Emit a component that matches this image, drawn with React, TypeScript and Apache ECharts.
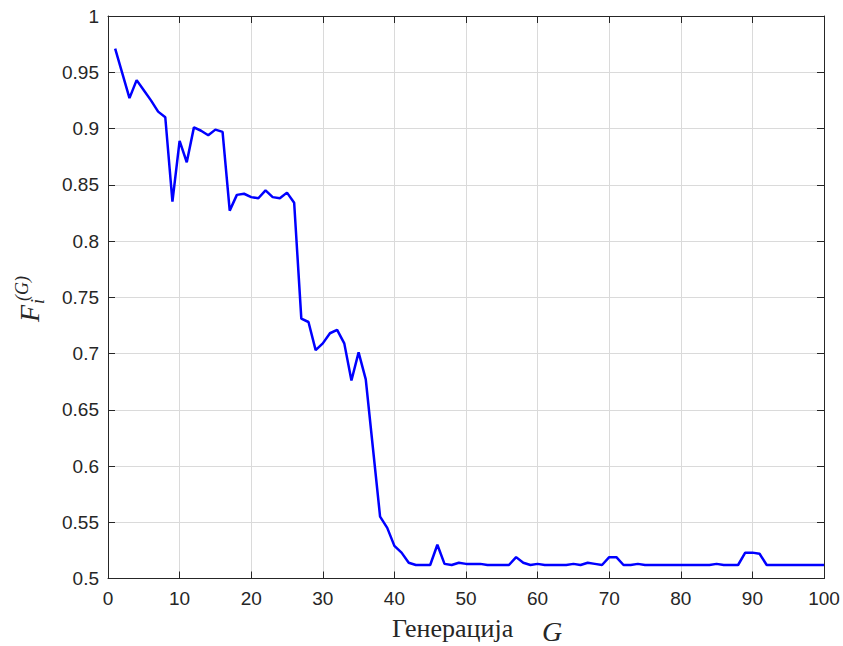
import React, { useEffect, useRef } from "react";
import * as echarts from "echarts";

const generations: number[] = Array.from({ length: 100 }, (_, i) => i + 1);

const fitness: number[] = [
  0.971, 0.949, 0.927, 0.943, 0.934, 0.925, 0.915, 0.910, 0.835, 0.889,
  0.870, 0.901, 0.898, 0.894, 0.899, 0.897, 0.827, 0.841, 0.842, 0.839,
  0.838, 0.845, 0.839, 0.838, 0.843, 0.834, 0.731, 0.728, 0.703, 0.709,
  0.718, 0.721, 0.709, 0.676, 0.701, 0.677, 0.616, 0.555, 0.545, 0.529,
  0.523, 0.514, 0.512, 0.512, 0.512, 0.530, 0.513, 0.512, 0.514, 0.513,
  0.513, 0.513, 0.512, 0.512, 0.512, 0.512, 0.519, 0.514, 0.512, 0.513,
  0.512, 0.512, 0.512, 0.512, 0.513, 0.512, 0.514, 0.513, 0.512, 0.519,
  0.519, 0.512, 0.512, 0.513, 0.512, 0.512, 0.512, 0.512, 0.512, 0.512,
  0.512, 0.512, 0.512, 0.512, 0.513, 0.512, 0.512, 0.512, 0.523, 0.523,
  0.522, 0.512, 0.512, 0.512, 0.512, 0.512, 0.512, 0.512, 0.512, 0.512,
];

const xAxisLabel = "Генерација";
const xAxisSymbol = "G";

export default function App() {
  const ref = useRef<HTMLDivElement>(null);
  useEffect(() => {
    if (!ref.current) return;
    const chart = echarts.init(ref.current, null, { renderer: "svg" });
    const axisColor = "#262626";
    const gridColor = "#dadada";
    const labelFont = { fontFamily: "Liberation Sans, Arial, sans-serif", fontSize: 19, color: "#262626" };
    const commonX = {
      type: "value" as const,
      min: 0,
      max: 100,
      interval: 10,
      axisLine: { show: true, onZero: false, lineStyle: { color: axisColor, width: 1 } },
      axisTick: { show: true, inside: true, length: 7, lineStyle: { color: axisColor } },
    };
    const commonY = {
      type: "value" as const,
      min: 0.5,
      max: 1,
      interval: 0.05,
      axisLine: { show: true, onZero: false, lineStyle: { color: axisColor, width: 1 } },
      axisTick: { show: true, inside: true, length: 7, lineStyle: { color: axisColor } },
    };
    chart.setOption({
      animation: false,
      backgroundColor: "#ffffff",
      grid: { left: 108, right: 19, top: 16, bottom: 67.5, containLabel: false },
      xAxis: [
        {
          ...commonX,
          position: "bottom",
          axisLabel: { ...labelFont, margin: 10 },
          splitLine: { show: true, lineStyle: { color: gridColor, width: 1 } },
        },
        {
          ...commonX,
          position: "top",
          axisLabel: { show: false },
          splitLine: { show: false },
        },
      ],
      yAxis: [
        {
          ...commonY,
          position: "left",
          axisLabel: {
            ...labelFont,
            margin: 9,
            formatter: (v: number) => String(+v.toFixed(2)),
          },
          splitLine: { show: true, lineStyle: { color: gridColor, width: 1 } },
        },
        {
          ...commonY,
          position: "right",
          axisLabel: { show: false },
          splitLine: { show: false },
        },
      ],
      series: [
        {
          type: "line",
          xAxisIndex: 0,
          yAxisIndex: 0,
          data: generations.map((g, i) => [g, fitness[i]]),
          showSymbol: false,
          symbol: "none",
          lineStyle: { color: "#0000ff", width: 2.5 },
        },
      ],
      graphic: [
        {
          type: "text",
          left: 392,
          top: 615,
          style: {
            text: xAxisLabel,
            font: "26px 'Liberation Serif', 'Times New Roman', serif",
            fill: "#262626",
          },
        },
        {
          type: "text",
          left: 542,
          top: 617,
          style: {
            text: xAxisSymbol,
            font: "italic 28px 'Liberation Serif', 'Times New Roman', serif",
            fill: "#262626",
          },
        },
        {
          type: "group",
          x: 43,
          y: 322,
          rotation: Math.PI / 2,
          children: [
            {
              type: "text",
              x: 0,
              y: 0,
              style: {
                text: "F",
                font: "italic 28px 'Liberation Serif', 'Times New Roman', serif",
                fill: "#262626",
                verticalAlign: "bottom",
                align: "left",
              },
            },
            {
              type: "text",
              x: 18,
              y: 4,
              style: {
                text: "i",
                font: "italic 18px 'Liberation Serif', 'Times New Roman', serif",
                fill: "#262626",
                verticalAlign: "bottom",
                align: "left",
              },
            },
            {
              type: "text",
              x: 21,
              y: -12,
              style: {
                text: "(G)",
                font: "italic 18px 'Liberation Serif', 'Times New Roman', serif",
                fill: "#262626",
                verticalAlign: "bottom",
                align: "left",
              },
            },
          ],
        },
      ],
    });
    return () => chart.dispose();
  }, []);
  return (
    <div
      ref={ref}
      style={{ position: "fixed", left: 0, top: 0, width: 843, height: 646 }}
    />
  );
}
